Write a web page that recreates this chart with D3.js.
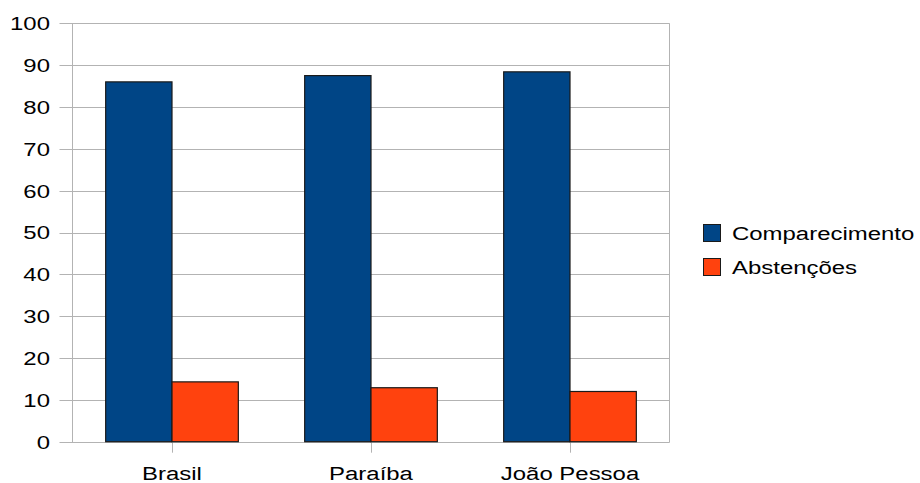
<!DOCTYPE html>
<html><head><meta charset="utf-8">
<script src="https://cdn.jsdelivr.net/npm/d3@7"></script>
<style>body{margin:0;background:#fff}text{font-family:"Liberation Sans",Arial,sans-serif}</style>
</head><body><svg id="c" width="920" height="483"></svg>
<script>
const categories = ["Brasil", "Paraíba", "João Pessoa"];
const seriesNames = ["Comparecimento", "Abstenções"];
const comparecimento = [86.0, 87.5, 88.4];
const abstencoes = [14.3, 12.9, 12.0];
const yTicks = [0,10,20,30,40,50,60,70,80,90,100];
const colors = ["#004586", "#ff420e"];

const svg = d3.select("#c");
const L = 72.5, R = 669.5, T = 23.3, B = 441.7;
const SX = 1.26, FS = 19;
const x = d3.scaleBand().domain(categories).range([L, R]).paddingInner(0).paddingOuter(0);
const x1 = d3.scaleBand().domain(seriesNames).range([0, x.bandwidth()]).paddingOuter(0.5).paddingInner(0);
const y = d3.scaleLinear().domain([0,100]).range([B, T]);
const grid = "#b3b3b3";

// gridlines
svg.append("g").selectAll("line").data(yTicks).join("line")
  .attr("x1", L-13).attr("x2", R).attr("y1", d=>Math.round(y(d))+0.5).attr("y2", d=>Math.round(y(d))+0.5)
  .attr("stroke", grid).attr("stroke-width",1);
// frame verticals
svg.append("line").attr("x1",L).attr("x2",L).attr("y1",T).attr("y2",B+0.8).attr("stroke",grid);
svg.append("line").attr("x1",R).attr("x2",R).attr("y1",T).attr("y2",B+0.8).attr("stroke",grid);
// x ticks
svg.append("g").selectAll("line").data(categories).join("line")
  .attr("x1", d=>Math.round(x(d)+x.bandwidth()/2)+0.5).attr("x2", d=>Math.round(x(d)+x.bandwidth()/2)+0.5)
  .attr("y1", B).attr("y2", B+11).attr("stroke", grid);

// y labels
svg.append("g").selectAll("text").data(yTicks).join("text")
  .attr("transform", d=>`translate(50,${y(d)}) scale(${SX},1)`).attr("dy","0.36em").attr("text-anchor","end")
  .attr("font-size", FS).attr("fill","#000").text(d=>d);
// x labels
svg.append("g").selectAll("text").data(categories).join("text")
  .attr("transform", d=>`translate(${x(d)+x.bandwidth()/2},480) scale(${SX},1)`).attr("text-anchor","middle")
  .attr("font-size", FS).attr("fill","#000").text(d=>d);

// bars
const data = categories.map((c,i)=>({c, vals:[comparecimento[i], abstencoes[i]]}));
const g = svg.append("g").selectAll("g").data(data).join("g").attr("transform", d=>`translate(${x(d.c)},0)`);
g.selectAll("rect").data(d=>d.vals.map((v,j)=>({v, s:seriesNames[j], j}))).join("rect")
  .attr("x", d=>x1(d.s)).attr("width", x1.bandwidth())
  .attr("y", d=>y(d.v)).attr("height", d=>B - y(d.v))
  .attr("fill", d=>colors[d.j]).attr("stroke", "#1a1a1a").attr("stroke-width", 1.2);

// legend
const lg = svg.append("g").selectAll("g").data(seriesNames).join("g")
  .attr("transform", (d,i)=>`translate(703.5,${224.5 + i*34})`);
lg.append("rect").attr("width",17).attr("height",17).attr("fill",(d,i)=>colors[i]).attr("stroke","#1a1a1a").attr("stroke-width",1);
lg.append("text").attr("transform",`translate(28.5,8.5) scale(${SX},1)`).attr("dy","0.36em").attr("font-size",FS).attr("fill","#000").text(d=>d);
</script></body></html>
